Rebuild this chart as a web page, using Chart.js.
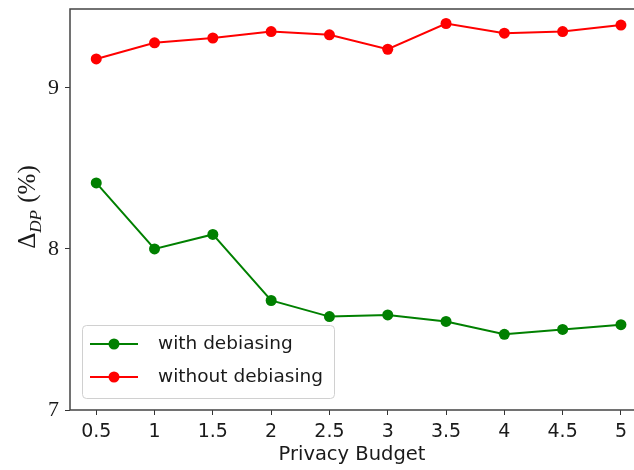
<!DOCTYPE html>
<html>
<head>
<meta charset="utf-8">
<script src="https://cdn.jsdelivr.net/npm/chart.js@4.4.1/dist/chart.umd.min.js"></script>
<style>
  html, body { margin: 0; padding: 0; background: #fff; overflow: hidden; }
  canvas { display: block; }
</style>
</head>
<body>
<canvas id="c" width="634" height="470"></canvas>
<script>
const budgets = [0.5, 1, 1.5, 2, 2.5, 3, 3.5, 4, 4.5, 5];
const withDebiasing = [8.41, 8.00, 8.09, 7.68, 7.58, 7.59, 7.55, 7.47, 7.50, 7.53];
const withoutDebiasing = [9.18, 9.28, 9.31, 9.35, 9.33, 9.24, 9.40, 9.34, 9.35, 9.39];
const xTickValues = [0.5, 1, 1.5, 2, 2.5, 3, 3.5, 4, 4.5, 5];
const xTickLabels = ['0.5', '1', '1.5', '2', '2.5', '3', '3.5', '4', '4.5', '5'];
const yTickValues = [7, 8, 9];
const yTickLabels = ['7', '8', '9'];
const seriesNames = ['with debiasing', 'without debiasing'];

const SANS = '"DejaVu Sans", sans-serif';
const SERIF = '"Liberation Serif", "DejaVu Serif", serif';

function pts(vals) { return budgets.map((b, i) => ({ x: b, y: vals[i] })); }

const framePlugin = {
  id: 'frame',
  afterDraw(chart) {
    const { ctx, chartArea: a } = chart;
    // left, bottom and top spines (right spine lies outside the cropped image)
    ctx.save();
    ctx.strokeStyle = '#444';
    ctx.lineWidth = 1.5;
    ctx.beginPath();
    ctx.moveTo(a.right + 2, a.top);
    ctx.lineTo(a.left, a.top);
    ctx.lineTo(a.left, a.bottom);
    ctx.lineTo(a.right + 2, a.bottom);
    ctx.stroke();
    ctx.restore();

    // y-axis title: Δ_DP (%)
    ctx.save();
    ctx.beginPath();
    ctx.translate(35, 207);
    ctx.rotate(-Math.PI / 2);
    ctx.fillStyle = '#1a1a1a';
    ctx.textBaseline = 'alphabetic';
    const fMain = '25px ' + SERIF;
    const fSub = 'italic 17px ' + SERIF;
    ctx.font = fMain; const w1 = ctx.measureText('\u0394').width;
    ctx.font = fSub; const w2 = ctx.measureText('DP').width;
    ctx.font = fMain; const w3 = ctx.measureText(' (%)').width;
    let x = -(w1 + w2 + 1 + w3) / 2;
    ctx.font = fMain; ctx.fillText('\u0394', x, 0); x += w1;
    ctx.font = fSub; ctx.fillText('DP', x, 6); x += w2 + 1;
    ctx.font = fMain; ctx.fillText(' (%)', x, 0);
    ctx.restore();

    // legend
    ctx.save();
    const bx = 82, by = 325, bw = 252, bh = 73, r = 4;
    ctx.fillStyle = 'rgba(255,255,255,0.8)';
    ctx.strokeStyle = '#d0d0d0';
    ctx.lineWidth = 1;
    ctx.beginPath();
    ctx.roundRect(bx + 0.5, by + 0.5, bw, bh, r);
    ctx.fill();
    ctx.stroke();
    const rows = [344, 377];
    chart.data.datasets.forEach((ds, i) => {
      const y = rows[i];
      ctx.strokeStyle = ds.borderColor;
      ctx.lineWidth = ds.borderWidth;
      ctx.beginPath();
      ctx.moveTo(90, y);
      ctx.lineTo(138, y);
      ctx.stroke();
      ctx.fillStyle = ds.pointBackgroundColor;
      ctx.beginPath();
      ctx.arc(114, y, ds.pointRadius, 0, Math.PI * 2);
      ctx.fill();
      ctx.fillStyle = '#1a1a1a';
      ctx.font = '18.5px ' + SANS;
      ctx.textBaseline = 'middle';
      ctx.fillText(ds.label, 158, y);
    });
    ctx.restore();
  }
};

new Chart(document.getElementById('c'), {
  type: 'line',
  data: {
    datasets: [
      { label: seriesNames[0], data: pts(withDebiasing), borderColor: '#008000', backgroundColor: '#008000', pointBackgroundColor: '#008000', borderWidth: 2, pointRadius: 5.5, pointBorderWidth: 0 },
      { label: seriesNames[1], data: pts(withoutDebiasing), borderColor: '#ff0000', backgroundColor: '#ff0000', pointBackgroundColor: '#ff0000', borderWidth: 2, pointRadius: 5.5, pointBorderWidth: 0 }
    ]
  },
  options: {
    responsive: false,
    animation: false,
    layout: { autoPadding: false, padding: { left: 0, top: 9, right: 0, bottom: 0 } },
    plugins: { legend: { display: false }, tooltip: { enabled: false } },
    scales: {
      x: {
        type: 'linear', min: 0.275, max: 5.112,
        afterBuildTicks(scale) { scale.ticks = xTickValues.map(v => ({ value: v })); },
        afterFit(scale) { scale.height = 60; scale.paddingLeft = 0; scale.paddingRight = 0; },
        ticks: {
          callback: (v) => { const i = xTickValues.indexOf(v); return i >= 0 ? xTickLabels[i] : ''; },
          font: { family: SANS, size: 19 }, color: '#1a1a1a', padding: 6, maxRotation: 0, autoSkip: false
        },
        grid: { drawOnChartArea: false, tickLength: 5, tickColor: '#333' },
        border: { display: false },
        title: { display: true, text: 'Privacy Budget', font: { family: SANS, size: 19.5 }, color: '#1a1a1a', padding: { top: 0, bottom: 3 } }
      },
      y: {
        type: 'linear', min: 7, max: 9.49,
        afterBuildTicks(scale) { scale.ticks = yTickValues.map(v => ({ value: v })); },
        afterFit(scale) { scale.width = 70; scale.paddingTop = 0; scale.paddingBottom = 0; },
        ticks: {
          callback: (v) => { const i = yTickValues.indexOf(v); return i >= 0 ? yTickLabels[i] : ''; },
          font: { family: SERIF, size: 22 }, color: '#1a1a1a', padding: 6
        },
        grid: { drawOnChartArea: false, tickLength: 5, tickColor: '#333' },
        border: { display: false }
      }
    }
  },
  plugins: [framePlugin]
});
</script>
</body>
</html>
